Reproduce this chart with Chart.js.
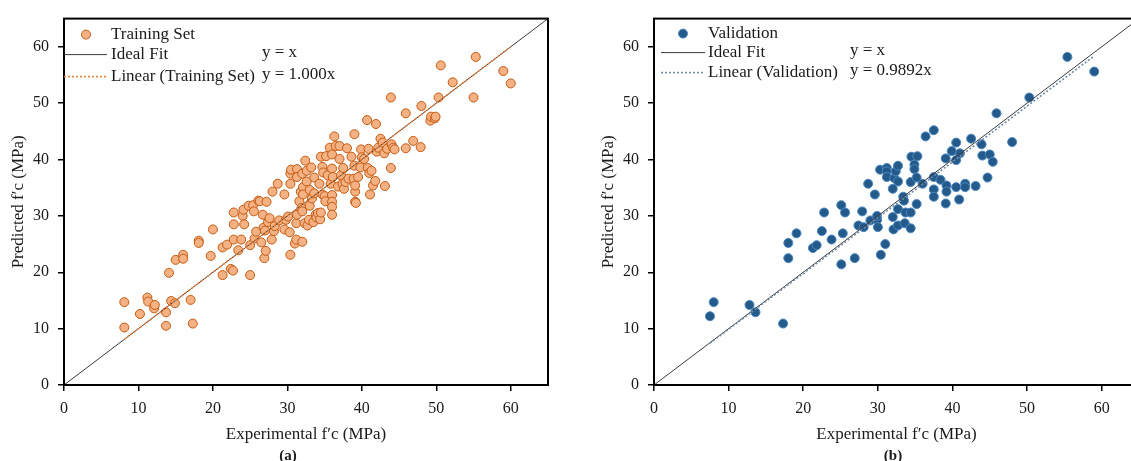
<!DOCTYPE html>
<html>
<head>
<meta charset="utf-8">
<script src="https://cdn.jsdelivr.net/npm/chart.js@4.4.1/dist/chart.umd.min.js"></script>
<style>
  html, body { margin: 0; padding: 0; background: #fff; overflow: hidden; width: 1131px; height: 461px; }
  canvas { position: absolute; top: 0; }
  #chart-a { left: 0; }
  #chart-b { left: 570px; }
</style>
</head>
<body>
<canvas id="chart-a" width="565" height="461"></canvas>
<canvas id="chart-b" width="586" height="461"></canvas>
<script>
// axis range and ticks (both panels)
const axisMin = 0;
const axisMax = 65;
const tickStep = 10;

// (a) training set: experimental f'c vs predicted f'c
const trainX = [8.1, 8.1, 10.2, 11.2, 11.3, 12.1, 12.2, 13.7, 13.7, 14.1, 14.4, 14.9, 15.0, 16.0, 16.0, 17.0, 17.3, 18.1, 18.1, 19.7,
  20.0, 21.3, 21.3, 21.9, 22.4, 22.7, 22.8, 22.8, 22.8, 23.4, 23.8, 24.0, 24.1, 24.2, 24.8, 25.0, 25.0, 25.4, 25.5, 25.6,
  25.8, 26.1, 26.3, 26.5, 26.7, 26.8, 26.9, 27.0, 27.1, 27.2, 27.4, 27.6, 27.9, 28.0, 28.2, 28.3, 28.7, 28.9, 29.6, 29.6,
  29.8, 30.1, 30.3, 30.4, 30.4, 30.4, 30.5, 31.0, 31.2, 31.2, 31.3, 31.3, 31.3, 31.6, 31.8, 31.9, 32.0, 32.0, 32.0, 32.1,
  32.1, 32.3, 32.4, 32.6, 32.6, 32.7, 32.9, 33.0, 33.0, 33.2, 33.3, 33.5, 33.6, 33.6, 33.8, 33.9, 34.1, 34.3, 34.4, 34.5,
  34.5, 34.7, 34.7, 34.8, 35.0, 35.1, 35.2, 35.4, 35.7, 35.8, 36.0, 36.0, 36.0, 36.0, 36.0, 36.0, 36.1, 36.3, 36.5, 36.8,
  37.0, 37.0, 37.2, 37.4, 37.5, 37.6, 37.8, 38.0, 38.2, 38.6, 38.9, 39.0, 39.0, 39.1, 39.1, 39.1, 39.2, 39.5, 39.8, 39.9,
  40.0, 40.3, 40.7, 40.8, 40.9, 41.0, 41.1, 41.3, 41.5, 41.8, 41.9, 42.0, 42.2, 42.5, 42.8, 43.0, 43.1, 43.4, 43.9, 43.9,
  44.0, 44.2, 44.4, 45.9, 45.9, 46.9, 47.9, 48.0, 49.2, 49.3, 49.8, 49.9, 50.3, 50.6, 52.2, 55.0, 55.3, 59.0, 60.0];
const trainY = [14.7, 10.2, 12.6, 15.5, 14.8, 13.6, 14.2, 12.9, 10.5, 19.9, 14.9, 14.5, 22.2, 23.1, 22.4, 15.1, 10.9, 25.6, 25.2, 22.9,
  27.6, 19.5, 24.4, 24.9, 20.6, 20.3, 28.5, 30.6, 25.8, 23.9, 25.8, 30.0, 31.1, 28.5, 31.8, 24.8, 19.5, 31.9, 30.8, 26.0,
  27.2, 32.7, 32.6, 25.3, 30.2, 27.9, 22.5, 27.4, 23.8, 32.5, 28.9, 29.6, 25.8, 34.3, 27.3, 28.2, 35.7, 29.2, 33.8, 27.6,
  29.3, 29.9, 27.1, 23.1, 35.7, 37.5, 38.2, 25.1, 25.8, 28.7, 30.2, 38.3, 36.9, 32.6, 34.3, 31.4, 30.8, 25.4, 37.5, 35.1,
  33.8, 28.7, 39.8, 38.0, 36.1, 28.3, 29.3, 34.6, 31.8, 38.6, 33.1, 28.9, 36.8, 34.0, 30.2, 29.7, 30.5, 35.7, 29.4, 30.6,
  40.5, 33.8, 38.7, 37.7, 33.5, 32.6, 40.6, 37.2, 42.1, 35.7, 40.9, 38.4, 33.7, 32.5, 31.6, 30.2, 36.9, 44.1, 42.4, 35.2,
  40.1, 42.4, 37.2, 35.7, 38.5, 34.8, 36.0, 42.0, 36.6, 40.5, 36.6, 44.5, 38.9, 34.3, 35.4, 32.5, 32.3, 36.9, 38.6, 41.8,
  40.4, 40.1, 47.0, 38.5, 41.9, 37.6, 33.8, 38.0, 35.4, 36.2, 46.3, 41.4, 42.1, 43.7, 43.0, 41.1, 35.3, 41.9, 51.0, 38.5,
  42.7, 42.1, 41.8, 42.0, 48.2, 43.3, 42.2, 49.5, 46.9, 47.6, 47.3, 47.6, 51.0, 56.7, 53.7, 51.0, 58.2, 55.7, 53.5];
const trainSlope = 1.000;

// (b) validation set
const valX = [7.5, 8.0, 12.8, 13.6, 17.3, 18.0, 18.0, 19.1, 21.3, 21.8, 22.5, 22.8, 23.8, 25.1, 25.1, 25.3, 25.6, 26.9, 27.4, 27.9,
  28.1, 28.7, 29.0, 29.6, 29.9, 29.9, 30.0, 30.3, 30.4, 31.0, 31.2, 31.2, 31.2, 32.0, 32.0, 32.1, 32.2, 32.4, 32.7, 32.7,
  32.7, 32.7, 33.4, 33.5, 33.6, 33.7, 34.4, 34.4, 34.4, 34.5, 34.9, 34.9, 35.2, 35.2, 35.3, 36.0, 36.4, 37.5, 37.5, 37.5,
  37.5, 38.4, 39.1, 39.1, 39.2, 39.2, 39.9, 40.5, 40.5, 40.5, 40.9, 41.0, 41.7, 41.7, 42.5, 43.1, 43.9, 44.0, 44.7, 45.0,
  45.4, 45.9, 48.0, 50.3, 55.4, 59.0];
const valY = [12.2, 14.7, 14.2, 12.9, 10.9, 25.2, 22.5, 26.9, 24.3, 24.8, 27.3, 30.6, 25.8, 31.9, 21.4, 26.9, 30.6, 22.5, 28.3, 30.8,
  28.0, 35.7, 29.2, 33.8, 29.3, 30.0, 28.0, 38.2, 23.1, 25.0, 38.5, 37.9, 36.9, 34.8, 29.8, 27.6, 36.7, 37.9, 38.9, 36.1,
  31.2, 28.3, 33.4, 32.7, 28.7, 30.6, 36.0, 30.6, 27.8, 40.5, 39.1, 38.3, 36.8, 32.1, 40.6, 35.7, 44.1, 45.2, 36.9, 34.7,
  33.4, 36.4, 32.2, 40.2, 35.4, 34.3, 41.5, 43.0, 39.9, 35.1, 32.9, 41.1, 35.7, 35.1, 43.7, 35.3, 42.7, 40.7, 36.8, 40.9,
  39.6, 48.2, 43.1, 51.0, 58.2, 55.6];
const valSlope = 0.9892;

function points(xs, ys) {
  return xs.map((x, i) => ({ x: x, y: ys[i] }));
}

function trendLine(xs, slope) {
  const lo = Math.min(...xs), hi = Math.max(...xs);
  return [{ x: lo, y: slope * lo }, { x: hi, y: slope * hi }];
}

const serif = '"Liberation Serif", "Times New Roman", serif';
Chart.defaults.font.family = serif;
Chart.defaults.font.size = 16;
Chart.defaults.color = '#1a1a1a';

// frame + legend drawn inside the plot area
const insideLegend = {
  id: 'insideLegend',
  afterDatasetsDraw(chart, args, opts) {
    const ctx = chart.ctx;
    const a = chart.chartArea;
    const ds = chart.data.datasets;
    ctx.save();
    ctx.strokeStyle = '#000';
    ctx.lineWidth = 2;
    ctx.strokeRect(a.left, a.top, a.right - a.left, a.bottom - a.top);

    ctx.font = '17px ' + serif;
    ctx.fillStyle = '#1a1a1a';
    ctx.textBaseline = 'middle';
    ctx.textAlign = 'left';

    // row 1: marker
    const r1 = a.top + opts.rows[0];
    ctx.beginPath();
    ctx.arc(a.left + opts.markerX, r1, 4.5, 0, Math.PI * 2);
    ctx.fillStyle = ds[0].backgroundColor;
    ctx.fill();
    ctx.lineWidth = 1;
    ctx.strokeStyle = ds[0].borderColor;
    ctx.stroke();
    ctx.fillStyle = '#1a1a1a';
    ctx.fillText(ds[0].label, a.left + opts.textX, r1);

    // rows 2 and 3: lines with equations
    for (let k = 1; k <= 2; k++) {
      const y = a.top + opts.rows[k];
      ctx.beginPath();
      ctx.setLineDash(ds[k].borderDash || []);
      ctx.strokeStyle = ds[k].borderColor;
      ctx.lineWidth = ds[k].borderWidth;
      ctx.moveTo(a.left + opts.lineX[0], y);
      ctx.lineTo(a.left + opts.lineX[1], y);
      ctx.stroke();
      ctx.setLineDash([]);
      ctx.fillStyle = '#1a1a1a';
      ctx.fillText(ds[k].label, a.left + opts.textX, y);
      ctx.fillText(opts.equations[k - 1], a.left + opts.eqX, y - 2);
    }

    // panel letter
    ctx.font = 'bold 15px ' + serif;
    ctx.textAlign = 'center';
    ctx.fillText(opts.panel, a.left + opts.panelX, 456);
    ctx.restore();
  }
};

function makeChart(id, pts, fit, colors, legendOpts, padLeft) {
  const ctx = document.getElementById(id).getContext('2d');
  return new Chart(ctx, {
    type: 'scatter',
    data: {
      datasets: [{
        label: legendOpts.names[0],
        data: pts,
        pointRadius: 4.5,
        pointHoverRadius: 4.5,
        backgroundColor: colors.fill,
        borderColor: colors.edge,
        borderWidth: 1,
        order: 3
      }, {
        label: legendOpts.names[1],
        data: [{ x: axisMin, y: axisMin }, { x: axisMax, y: axisMax }],
        showLine: true,
        borderColor: '#3c3c3c',
        borderWidth: 1,
        pointRadius: 0,
        order: 2
      }, {
        label: legendOpts.names[2],
        data: fit,
        showLine: true,
        borderColor: colors.trend,
        borderDash: [2, 2],
        borderWidth: 1.6,
        pointRadius: 0,
        order: 1
      }]
    },
    options: {
      responsive: false,
      animation: false,
      layout: { padding: { left: padLeft, right: 17, top: 14, bottom: 0 } },
      plugins: {
        legend: { display: false },
        tooltip: { enabled: false },
        insideLegend: legendOpts
      },
      scales: {
        x: {
          type: 'linear',
          min: axisMin,
          max: axisMax,
          ticks: { stepSize: tickStep, includeBounds: false, padding: 8 },
          grid: { drawOnChartArea: false, drawTicks: true, tickLength: 6, color: '#000', lineWidth: 1.5 },
          border: { display: false },
          title: { display: true, text: 'Experimental f′c (MPa)', font: { size: 17 }, padding: { top: 0, bottom: 16 } },
          afterFit(s) { s.height = 76; }
        },
        y: {
          type: 'linear',
          min: axisMin,
          max: axisMax,
          ticks: { stepSize: tickStep, includeBounds: false, padding: 9 },
          grid: { drawOnChartArea: false, drawTicks: true, tickLength: 6, color: '#000', lineWidth: 1.5 },
          border: { display: false },
          title: { display: true, text: 'Predicted f′c (MPa)', font: { size: 17 }, padding: { top: 8, bottom: 0 } },
          afterFit(s) { s.width = 64; }
        }
      }
    },
    plugins: [insideLegend]
  });
}

makeChart('chart-a', points(trainX, trainY), trendLine(trainX, trainSlope),
  { fill: '#f4b183', edge: '#c55a11', trend: '#ed7d31' },
  {
    names: ['Training Set', 'Ideal Fit', 'Linear (Training Set)'],
    equations: ['y = x', 'y = 1.000x'],
    rows: [16, 36, 58], markerX: 22, textX: 47, lineX: [0, 43], eqX: 198, panelX: 224, panel: '(a)'
  }, 0);

makeChart('chart-b', points(valX, valY), trendLine(valX, valSlope),
  { fill: '#245a8a', edge: '#4a86c0', trend: '#6f8aa6' },
  {
    names: ['Validation', 'Ideal Fit', 'Linear (Validation)'],
    equations: ['y = x', 'y = 0.9892x'],
    rows: [15, 34, 54], markerX: 29, textX: 54, lineX: [7, 51], eqX: 196, panelX: 239, panel: '(b)'
  }, 20);
</script>
</body>
</html>
